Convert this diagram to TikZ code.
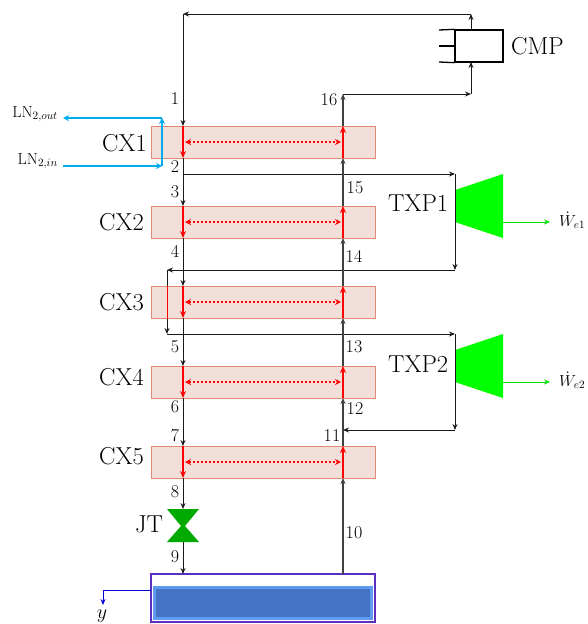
\documentclass[tikz,border=0pt]{standalone}
\usepackage{fix-cm}
\usepackage{amsmath}
\usepackage{tikz}
\usetikzlibrary{arrows.meta}

\definecolor{cxfill}{HTML}{F3DFD9}
\definecolor{cxedge}{HTML}{E08A76}
\definecolor{lnblue}{HTML}{00AEEF}
\definecolor{tankedge}{HTML}{5B2FC0}
\definecolor{liqouter}{HTML}{5F9BF0}
\definecolor{liqinner}{HTML}{4472C4}
\definecolor{jtgreen}{HTML}{00AA00}

\begin{document}
\begin{tikzpicture}[x=1pt, y=-1pt]
    % Styles
    \tikzstyle{cxbox} = [rectangle, draw=cxedge, fill=cxfill, line width=1pt, minimum width=224pt, minimum height=32pt, inner sep=0pt]
    \tikzstyle{pipe} = [-{Stealth[length=6pt, width=5pt]}, line width=0.9pt, black!90]
    \tikzstyle{riser} = [-{Stealth[length=6pt, width=5pt]}, line width=1.3pt, black!75]
    \tikzstyle{heat} = [-{Stealth[length=7pt, width=6pt]}, line width=1.6pt, red]
    \tikzstyle{duty} = [{Stealth[length=6pt, width=6pt]}-{Stealth[length=6pt, width=6pt]}, line width=1.4pt, red, dash pattern=on 2.2pt off 1.8pt]
    \tikzstyle{coolant} = [-{Stealth[length=6pt, width=6pt]}, line width=1.6pt, lnblue]
    \tikzstyle{work} = [-{Stealth[length=6pt, width=5pt]}, line width=0.9pt, green!90!black]
    \tikzstyle{num} = [inner sep=0pt, font=\fontsize{18}{18}\selectfont]
    \tikzstyle{tag} = [inner sep=0pt, font=\fontsize{24.5}{24.5}\selectfont]
    \tikzstyle{small} = [inner sep=0pt, font=\fontsize{16}{16}\selectfont]
    \useasboundingbox (0,0) rectangle (588,624);

    % Heat exchangers
    \node[cxbox] (CX1) at (263,142) {};
    \node[cxbox] (CX2) at (263,222) {};
    \node[cxbox] (CX3) at (263,302) {};
    \node[cxbox] (CX4) at (263,382) {};
    \node[cxbox] (CX5) at (263,462) {};

    % Points on the two streams
    \coordinate (A1) at (183,126); \coordinate (B1) at (183,158); \coordinate (C1) at (343,126); \coordinate (D1) at (343,158);
    \coordinate (A2) at (183,206); \coordinate (B2) at (183,238); \coordinate (C2) at (343,206); \coordinate (D2) at (343,238);
    \coordinate (A3) at (183,286); \coordinate (B3) at (183,318); \coordinate (C3) at (343,286); \coordinate (D3) at (343,318);
    \coordinate (A4) at (183,366); \coordinate (B4) at (183,398); \coordinate (C4) at (343,366); \coordinate (D4) at (343,398);
    \coordinate (A5) at (183,446); \coordinate (B5) at (183,478); \coordinate (C5) at (343,446); \coordinate (D5) at (343,478);
    \coordinate (E1) at (185,142); \coordinate (F1) at (341,142);
    \coordinate (E2) at (185,222); \coordinate (F2) at (341,222);
    \coordinate (E3) at (185,302); \coordinate (F3) at (341,302);
    \coordinate (E4) at (185,382); \coordinate (F4) at (341,382);
    \coordinate (E5) at (185,462); \coordinate (F5) at (341,462);
    \coordinate (top) at (183,14);
    \coordinate (topR) at (471,14);
    \coordinate (lowR) at (471,94);
    \coordinate (out16) at (343,94);
    \coordinate (in1) at (455,174);
    \coordinate (tap1) at (183,174);
    \coordinate (ex1) at (455,270);
    \coordinate (ex1L) at (167,270);
    \coordinate (in2L) at (167,334);
    \coordinate (in2) at (455,334);
    \coordinate (ex2) at (455,430);
    \coordinate (ex2L) at (343,430);
    \coordinate (jtT) at (183,509);
    \coordinate (jtB) at (183,542);

    % Compressor, turbines, valve
    \node[draw=black, line width=1.3pt, minimum width=48pt, minimum height=32pt, inner sep=0pt] (CMPbox) at (479,46) {};
    \coordinate (t1) at (439,30); \coordinate (t2) at (439,46); \coordinate (t3) at (439,62);
    \draw[line width=1.3pt] (t1) -- (CMPbox.north west);
    \draw[line width=1.3pt] (t2) -- (CMPbox.west);
    \draw[line width=1.3pt] (t3) -- (CMPbox.south west);
    \coordinate (cmpT) at (471,30);
    \coordinate (cmpB) at (471,62);
    \fill[green] (455,190) -- (503,174) -- (503,238) -- (455,222) -- cycle;
    \fill[green] (455,350) -- (503,334) -- (503,398) -- (455,382) -- cycle;
    \fill[jtgreen] (167,509) -- (199,509) -- (185,526) -- (199,542) -- (167,542) -- (181,526) -- cycle;

    % Separator
    \node[draw=tankedge, line width=1.5pt, minimum width=224pt, minimum height=48pt, inner sep=0pt] (tank) at (263,598) {};
    \fill[liqouter] (153,586) rectangle (373,620);
    \fill[liqinner] (156,589) rectangle (370,617);
    \coordinate (tank9) at (183,574);
    \coordinate (tank10) at (343,574);
    \coordinate (yA) at (151,590);
    \coordinate (yB) at (103,590);
    \coordinate (yC) at (103,605);

    % Cold stream
    \draw[pipe] (cmpT) -- (topR);
    \draw[pipe] (topR) -- (top);
    \draw[pipe] (top) -- (A1);
    \draw[pipe] (B1) -- (A2);
    \draw[pipe] (B2) -- (A3);
    \draw[pipe] (B3) -- (A4);
    \draw[pipe] (B4) -- (A5);
    \draw[pipe] (B5) -- (jtT);
    \draw[pipe] (jtB) -- (tank9);
    \draw[pipe] (tap1) -- (in1);
    \draw[pipe] (in1) -- (ex1);
    \draw[pipe] (ex1) -- (ex1L);
    \draw[pipe] (ex1L) -- (in2L);
    \draw[pipe] (in2L) -- (in2);
    \draw[pipe] (in2) -- (ex2);
    \draw[pipe] (ex2) -- (ex2L);

    % Warm stream
    \draw[riser] (tank10) -- (D5);
    \draw[riser] (C5) -- (D4);
    \draw[riser] (C4) -- (D3);
    \draw[riser] (C3) -- (D2);
    \draw[riser] (C2) -- (D1);
    \draw[riser] (C1) -- (out16);
    \draw[pipe] (out16) -- (lowR);
    \draw[pipe] (lowR) -- (cmpB);

    % Inside the exchangers
    \draw[heat] (A1) -- (B1); \draw[heat] (D1) -- (C1); \draw[duty] (E1) -- (F1);
    \draw[heat] (A2) -- (B2); \draw[heat] (D2) -- (C2); \draw[duty] (E2) -- (F2);
    \draw[heat] (A3) -- (B3); \draw[heat] (D3) -- (C3); \draw[duty] (E3) -- (F3);
    \draw[heat] (A4) -- (B4); \draw[heat] (D4) -- (C4); \draw[duty] (E4) -- (F4);
    \draw[heat] (A5) -- (B5); \draw[heat] (D5) -- (C5); \draw[duty] (E5) -- (F5);
    \draw[red, line width=1pt] (ex1L |- CX3.north) -- (ex1L |- CX3.south);

    % Coolant
    \coordinate (lnA) at (63,166); \coordinate (lnB) at (162,166);
    \coordinate (lnC) at (162,118); \coordinate (lnD) at (63,118);
    \draw[coolant] (lnA) -- (lnB);
    \draw[coolant] (lnB) -- (lnC);
    \draw[coolant] (lnC) -- (lnD);

    % Work and product
    \coordinate (w1A) at (503,222); \coordinate (w1B) at (550,222);
    \coordinate (w2A) at (503,382); \coordinate (w2B) at (550,382);
    \draw[work] (w1A) -- (w1B);
    \draw[work] (w2A) -- (w2B);
    \draw[-{Stealth[length=6pt, width=5pt]}, line width=0.9pt, blue!85!black] (yA) -- (yB) -- (yC);

    % Labels
    \node[tag, anchor=east] (lCX1) at (147,143) {CX1};
    \node[tag, anchor=east] (lCX2) at (144,222) {CX2};
    \node[tag, anchor=east] (lCX3) at (144,302) {CX3};
    \node[tag, anchor=east] (lCX4) at (144,377) {CX4};
    \node[tag, anchor=east] (lCX5) at (144,456) {CX5};
    \node[tag] (lJT) at (149,524) {JT};
    \node[tag, anchor=west] (lCMP) at (511,46) {CMP};
    \node[tag, anchor=west] (lTXP1) at (388,203) {TXP1};
    \node[tag, anchor=west] (lTXP2) at (388,364) {TXP2};
    \node[small, anchor=east] (lOut) at (58,114) {LN$_{2,out}$};
    \node[small, anchor=east] (lIn) at (58,161) {LN$_{2,in}$};
    \node[small, anchor=west] (lW1) at (559,220) {$\dot{W}_{e1}$};
    \node[small, anchor=west] (lW2) at (559,380) {$\dot{W}_{e2}$};
    \node[font=\fontsize{20}{20}\selectfont, inner sep=0pt] (ly) at (102,616) {$y$};
    \node[num] (n1) at (175,99) {1};
    \node[num] (n2) at (175,167) {2};
    \node[num] (n3) at (175,192) {3};
    \node[num] (n4) at (175,251) {4};
    \node[num] (n5) at (175,347) {5};
    \node[num] (n6) at (175,407) {6};
    \node[num] (n7) at (175,436) {7};
    \node[num] (n8) at (175,492) {8};
    \node[num] (n9) at (175,557) {9};
    \node[num] (n10) at (354,533) {10};
    \node[num] (n11) at (332,436) {11};
    \node[num] (n12) at (355,409) {12};
    \node[num] (n13) at (354,347) {13};
    \node[num] (n14) at (354,256) {14};
    \node[num] (n15) at (355,188) {15};
    \node[num] (n16) at (329,100) {16};
\end{tikzpicture}
\end{document}
